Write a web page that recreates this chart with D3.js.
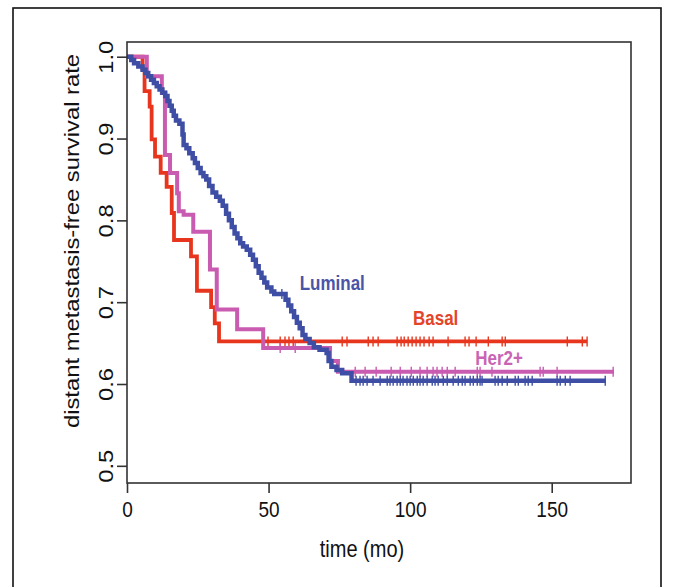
<!DOCTYPE html>
<html>
<head>
<meta charset="utf-8">
<script src="https://cdn.jsdelivr.net/npm/d3@7"></script>
<style>
  body { margin: 0; background: #fff; }
  svg { display: block; font-family: "Liberation Sans", Arial, sans-serif; }
</style>
</head>
<body>
<svg id="chart" width="674" height="587"></svg>
<script>
// step curves: drop times (mo) and survival after each drop
const lumTimes = [0,1.5,2.5,4,5.5,6.5,7.5,8.5,9.5,10.5,11.5,12.5,13.5,14.3,15,15.8,16.5,17.3,18.5,19.6,20,21,22,23.2,24,25,26,27,28,29,30.2,31.5,32.8,33.8,35,36,37,38,39,40,41,42.3,43.5,44.5,45.5,46.5,47.5,48.5,49.5,51,52,56,57,58,59,60,61,62,63,64.5,66,68,70.5,71.2,72.2,74,76,79.3]
const lumSurv = [1,0.996,0.992,0.988,0.984,0.98,0.976,0.972,0.968,0.964,0.96,0.956,0.952,0.946,0.94,0.934,0.928,0.922,0.918,0.905,0.892,0.888,0.882,0.876,0.87,0.864,0.858,0.854,0.85,0.842,0.834,0.829,0.824,0.818,0.808,0.8,0.792,0.784,0.778,0.772,0.768,0.764,0.758,0.752,0.744,0.736,0.73,0.724,0.718,0.713,0.71,0.703,0.696,0.689,0.682,0.675,0.668,0.66,0.655,0.65,0.645,0.642,0.638,0.628,0.621,0.617,0.613,0.604]
const lumCensor = [54.7,80.9,82.3,83.4,84.8,86.9,89.4,91.9,92.9,94.0,95.4,96.5,97.5,98.9,100.0,101.1,102.5,103.5,104.6,106.0,107.8,108.8,109.9,111.7,113.1,115.2,117.0,118.4,119.4,121.2,122.3,123.7,124.7,125.4,130.0,131.1,132.5,134.3,137.1,138.2,140.6,141.7,143.1,151.9,153.0,154.8,156.5,168.9]
const lumEnd = 169

const basTimes = [0,5.5,6.2,8.0,8.7,9.9,11.9,14.0,15.8,16.6,22.6,24.7,29.7,31.0,32.5]
const basSurv = [1,0.985,0.958,0.939,0.899,0.878,0.858,0.841,0.809,0.776,0.756,0.714,0.694,0.674,0.652]
const basCensor = [49.8,54.1,55.8,57.2,58.7,76.0,77.7,85.2,86.9,88.7,95.4,96.8,97.9,99.3,100.7,102.1,103.5,104.9,106.7,108.1,113.4,119.4,120.8,123.3,127.6,132.5,133.6,155.5,160.8,162.5]
const basEnd = 162.5

const herTimes = [0,7.0,12.3,13.4,15.2,17.7,18.3,20.0,23.4,29.3,31.7,38.9,48.1,71.7,74.5]
const herSurv = [1,0.976,0.956,0.88,0.858,0.833,0.811,0.807,0.786,0.74,0.691,0.667,0.644,0.628,0.615]
const herCensor = [54.1,59.4,80.6,84.1,88.0,93.3,96.5,100.4,103.5,106.0,108.1,109.5,111.3,113.1,115.9,123.7,124.7,128.9,145.9,147.0,151.9,171.7]
const herEnd = 172

const xTicks = [0,50,100,150]
const yTicks = [0.5,0.6,0.7,0.8,0.9,1.0]

const groups = [
  {name:'Basal', times:basTimes, surv:basSurv, censor:basCensor, end:basEnd, color:'#e8361e', label:'#e4452a', lx:101, ly:0.672, w:3.8},
  {name:'Her2+', times:herTimes, surv:herSurv, censor:herCensor, end:herEnd, color:'#c95bb0', label:'#c964b4', lx:123, ly:0.6235, w:4},
  {name:'Luminal', times:lumTimes, surv:lumSurv, censor:lumCensor, end:lumEnd, color:'#3f4ea5', label:'#4a55a8', lx:61, ly:0.715, w:4.5}
]

const svg = d3.select('#chart')
const x = d3.scaleLinear().domain([0,178]).range([127,631])
const y = d3.scaleLinear().domain([0.479,1.018]).range([483,42])
const stretch = 'scale(1,1.19)'

// outer figure frame
svg.append('rect').attr('x',13).attr('y',8).attr('width',648).attr('height',600)
  .attr('fill','none').attr('stroke','#111').attr('stroke-width',1.6)

const line = d3.line().x(d=>x(d[0])).y(d=>y(d[1])).curve(d3.curveStepAfter)

function survAt(g,t){
  const i = d3.bisectRight(g.times,t)-1
  return g.surv[Math.max(i,0)]
}

groups.forEach(g=>{
  const pts = g.times.map((t,i)=>[t,g.surv[i]])
  pts.push([g.end,g.surv[g.surv.length-1]])
  svg.append('path').datum(pts)
    .attr('d',line)
    .attr('fill','none')
    .attr('stroke',g.color)
    .attr('stroke-width',g.w)
  svg.append('g').selectAll('line')
    .data(g.censor)
    .enter().append('line')
    .attr('x1',d=>x(d)).attr('x2',d=>x(d))
    .attr('y1',d=>y(survAt(g,d))-5).attr('y2',d=>y(survAt(g,d))+5)
    .attr('stroke',g.color).attr('stroke-width',1.4)
})

groups.forEach(g=>{
  svg.append('text')
    .attr('transform','translate('+x(g.lx)+','+y(g.ly)+') '+stretch)
    .attr('fill',g.label)
    .style('font','bold 17px "Liberation Sans", Arial, sans-serif')
    .text(g.name)
})

// plot box
svg.append('rect').attr('x',127).attr('y',42).attr('width',504).attr('height',441)
  .attr('fill','none').attr('stroke','#333').attr('stroke-width',1.6)

const xAxis = svg.append('g').attr('transform','translate(0,483)')
  .call(d3.axisBottom(x).tickValues(xTicks).tickSize(10).tickFormat(d3.format('d')))
xAxis.select('.domain').remove()
xAxis.selectAll('line').attr('stroke','#333').attr('stroke-width',1.6)
xAxis.selectAll('text')
  .attr('y',0).attr('dy',null)
  .attr('transform','translate(0,34) '+stretch)
  .attr('fill','#111').style('font-size','19px')

const yAxis = svg.append('g').attr('transform','translate(127,0)')
  .call(d3.axisLeft(y).tickValues(yTicks).tickSize(10).tickFormat(d3.format('.1f')))
yAxis.select('.domain').remove()
yAxis.selectAll('line').attr('stroke','#333').attr('stroke-width',1.6)
yAxis.selectAll('text')
  .attr('x',0).attr('y',0).attr('dy',null)
  .attr('transform','translate(-14,0) '+stretch+' rotate(-90)')
  .attr('text-anchor','middle')
  .attr('fill','#111').style('font-size','20px')

svg.append('text')
  .attr('transform','translate(362,557) '+stretch)
  .attr('text-anchor','middle')
  .attr('fill','#111')
  .style('font-size','20px')
  .text('time (mo)')

svg.append('text')
  .attr('transform','translate(79,241) '+stretch+' rotate(-90)')
  .attr('text-anchor','middle')
  .attr('fill','#111')
  .style('font-size','20px')
  .text('distant metastasis-free survival rate')
</script>
</body>
</html>
